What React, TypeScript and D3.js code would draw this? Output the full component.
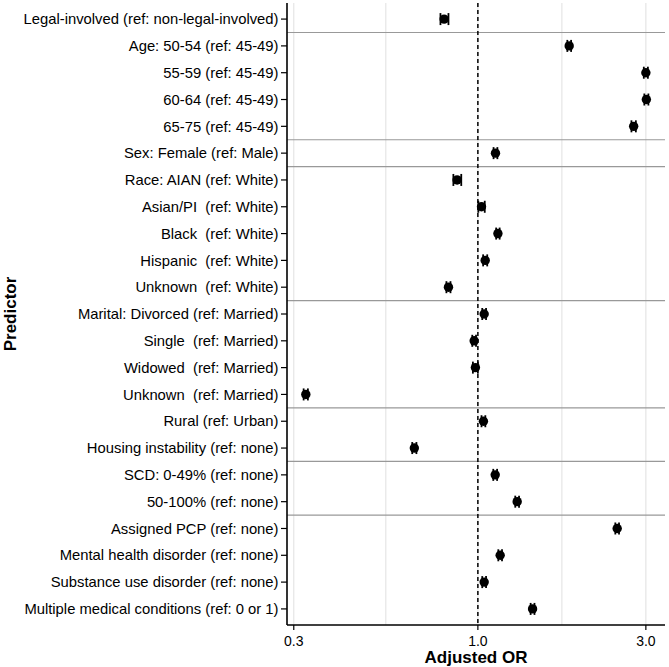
import * as d3 from 'd3';

// Predictor labels (top to bottom)
const predictors = [
  'Legal-involved (ref: non-legal-involved)',
  'Age: 50-54 (ref: 45-49)',
  '55-59 (ref: 45-49)',
  '60-64 (ref: 45-49)',
  '65-75 (ref: 45-49)',
  'Sex: Female (ref: Male)',
  'Race: AIAN (ref: White)',
  'Asian/PI  (ref: White)',
  'Black  (ref: White)',
  'Hispanic  (ref: White)',
  'Unknown  (ref: White)',
  'Marital: Divorced (ref: Married)',
  'Single  (ref: Married)',
  'Widowed  (ref: Married)',
  'Unknown  (ref: Married)',
  'Rural (ref: Urban)',
  'Housing instability (ref: none)',
  'SCD: 0-49% (ref: none)',
  '50-100% (ref: none)',
  'Assigned PCP (ref: none)',
  'Mental health disorder (ref: none)',
  'Substance use disorder (ref: none)',
  'Multiple medical conditions (ref: 0 or 1)',
];

const oddsRatio = [
  0.802, 1.817, 3.0, 3.01, 2.77, 1.122, 0.873, 1.024, 1.14, 1.049, 0.825,
  1.042, 0.976, 0.984, 0.3246, 1.037, 0.66, 1.12, 1.293, 2.487, 1.157, 1.042,
  1.43,
];
const ciLow = [
  0.783, 1.795, 2.96, 2.97, 2.73, 1.108, 0.852, 1.003, 1.127, 1.035, 0.814,
  1.029, 0.964, 0.968, 0.32, 1.024, 0.651, 1.106, 1.277, 2.457, 1.143, 1.029,
  1.412,
];
const ciHigh = [
  0.825, 1.84, 3.04, 3.05, 2.81, 1.136, 0.897, 1.046, 1.153, 1.063, 0.836,
  1.055, 0.988, 1.0, 0.329, 1.05, 0.669, 1.134, 1.309, 2.517, 1.171, 1.055,
  1.448,
];

// group separators drawn after these row indices
const groupEnds = [0, 4, 5, 10, 14, 16, 18];

const xTicks = [0.3, 1.0, 3.0];
const xMinor = [Math.sqrt(0.3), Math.sqrt(3)];

const WIDTH = 669;
const HEIGHT = 667;
const FONT = '"Liberation Sans", Arial, Helvetica, sans-serif';

export default function App() {
  const left = 287;
  const right = 665;
  const top = 3;
  const bottom = 625;

  const x = d3.scaleLog().domain([0.287, 3.4]).range([left, right]);
  const y = d3
    .scalePoint<number>()
    .domain(d3.range(predictors.length))
    .range([top, bottom])
    .padding(0.6);
  const step = y.step();
  const capH = 12;

  return (
    <svg
      width={WIDTH}
      height={HEIGHT}
      style={{ position: 'absolute', left: 0, top: 0, background: '#fff' }}
      fontFamily={FONT}
    >
      {/* grid */}
      {[...xTicks, ...xMinor].map((t) => (
        <line
          key={'g' + t}
          x1={x(t)}
          x2={x(t)}
          y1={top}
          y2={bottom}
          stroke="#e3e3e3"
          strokeWidth={1.1}
        />
      ))}

      {/* group separators */}
      {groupEnds.map((i) => {
        const yy = (y(i) as number) + step / 2;
        return (
          <line
            key={'s' + i}
            x1={left}
            x2={right}
            y1={yy}
            y2={yy}
            stroke="#999"
            strokeWidth={1.2}
          />
        );
      })}

      {/* reference line */}
      <line
        x1={x(1)}
        x2={x(1)}
        y1={top}
        y2={bottom}
        stroke="#000"
        strokeWidth={1.5}
        strokeDasharray="4,3"
      />

      {/* error bars and points */}
      {oddsRatio.map((v, i) => {
        const cy = y(i) as number;
        const x0 = x(ciLow[i]);
        const x1 = x(ciHigh[i]);
        return (
          <g key={'p' + i}>
            <line x1={x0} x2={x1} y1={cy} y2={cy} stroke="#000" strokeWidth={1.6} />
            <line x1={x0} x2={x0} y1={cy - capH / 2} y2={cy + capH / 2} stroke="#000" strokeWidth={1.8} />
            <line x1={x1} x2={x1} y1={cy - capH / 2} y2={cy + capH / 2} stroke="#000" strokeWidth={1.8} />
            <circle cx={x(v)} cy={cy} r={4.7} fill="#000" />
          </g>
        );
      })}

      {/* y axis */}
      <line x1={left} x2={left} y1={top} y2={bottom} stroke="#000" strokeWidth={1.6} />
      {predictors.map((p, i) => {
        const cy = y(i) as number;
        return (
          <g key={'y' + i}>
            <line x1={left - 6} x2={left} y1={cy} y2={cy} stroke="#000" strokeWidth={1.2} />
            <text
              x={left - 8.5}
              y={cy}
              dy="0.35em"
              textAnchor="end"
              fontSize={14.8}
              fill="#000"
              style={{ whiteSpace: 'pre' }}
            >
              {p}
            </text>
          </g>
        );
      })}

      {/* x axis */}
      <line x1={left} x2={right} y1={bottom} y2={bottom} stroke="#000" strokeWidth={1.6} />
      {xTicks.map((t) => (
        <g key={'x' + t}>
          <line x1={x(t)} x2={x(t)} y1={bottom} y2={bottom + 5} stroke="#000" strokeWidth={1.2} />
          <text
            x={x(t)}
            y={bottom + 16}
            dy="0.35em"
            textAnchor="middle"
            fontSize={14}
            fill="#000"
          >
            {t.toFixed(1)}
          </text>
        </g>
      ))}

      {/* axis titles */}
      <text
        x={(left + right) / 2}
        y={657}
        dy="0.35em"
        textAnchor="middle"
        fontSize={17}
        fontWeight="bold"
        fill="#000"
      >
        Adjusted OR
      </text>
      <text
        transform={`translate(10,${(top + bottom) / 2}) rotate(-90)`}
        dy="0.35em"
        textAnchor="middle"
        fontSize={17}
        fontWeight="bold"
        fill="#000"
      >
        Predictor
      </text>
    </svg>
  );
}
